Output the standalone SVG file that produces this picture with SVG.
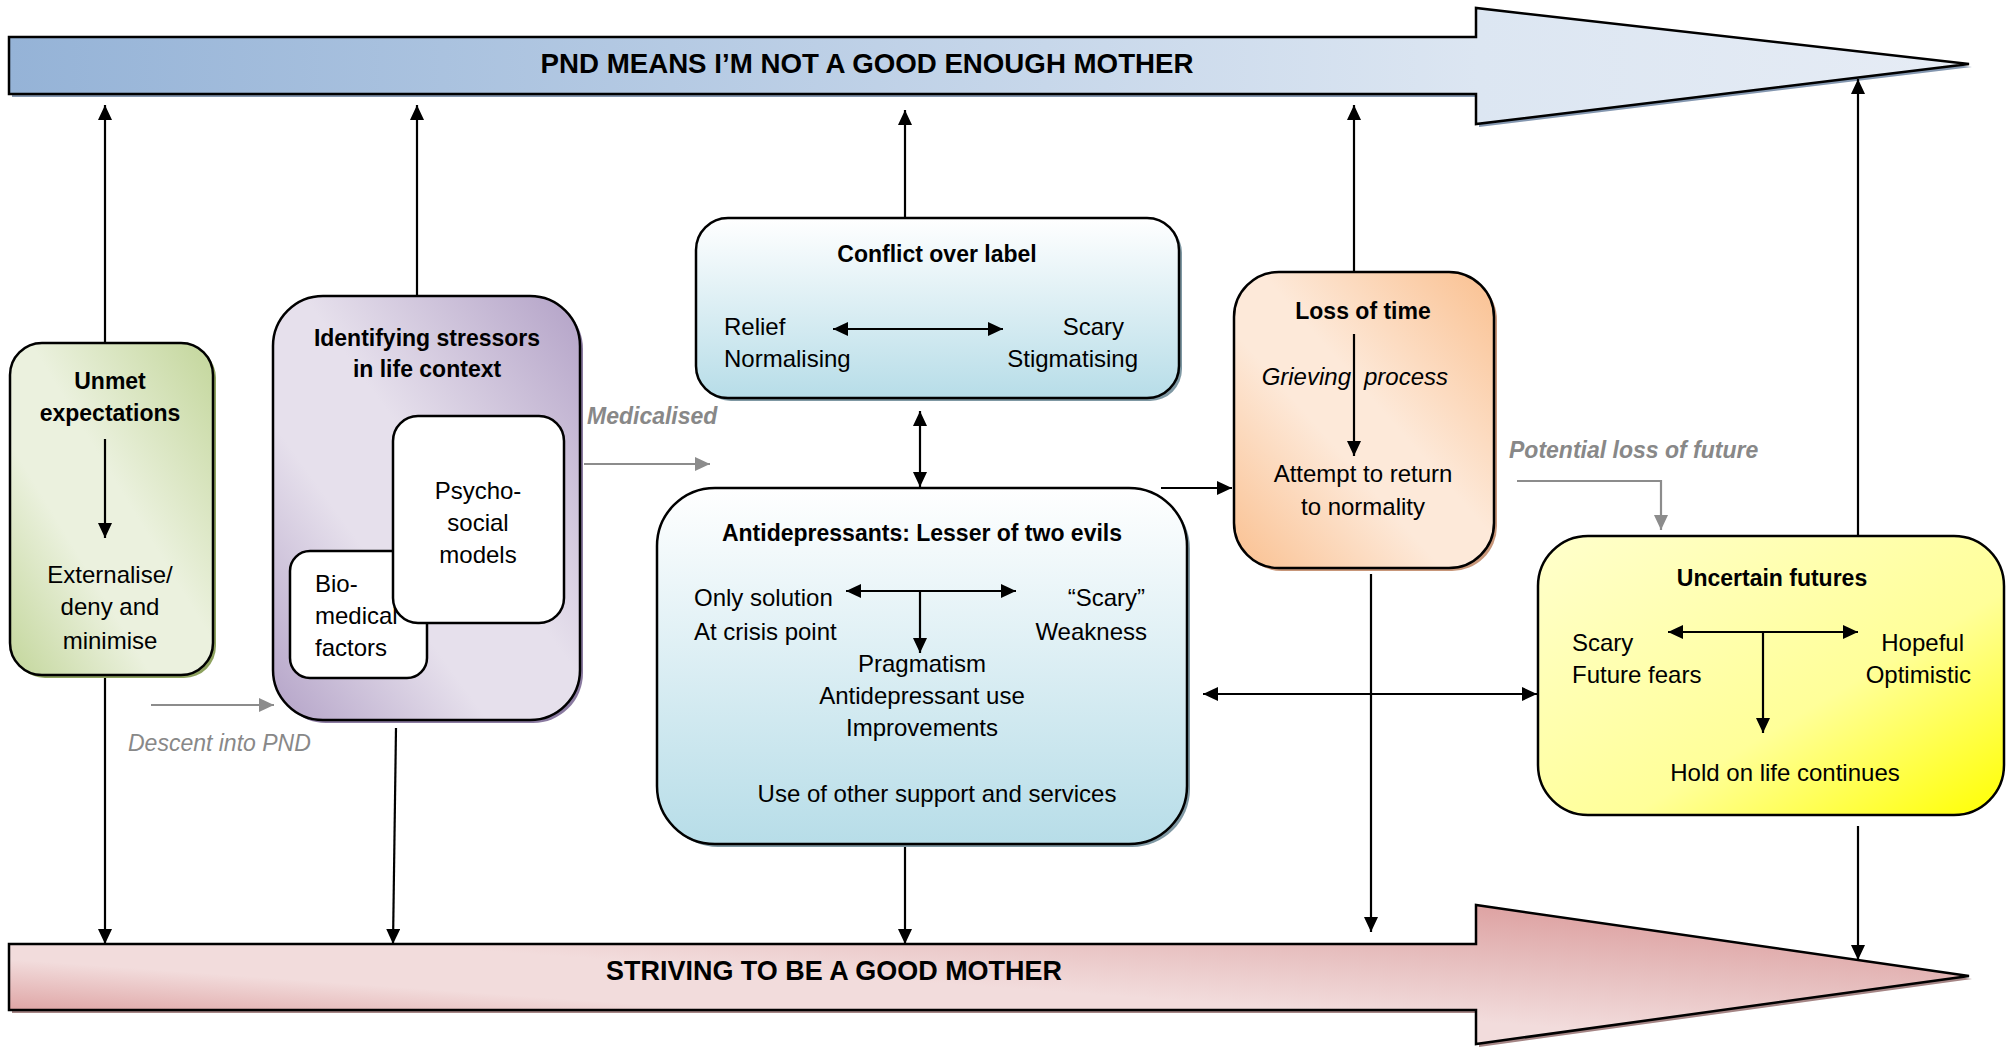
<svg xmlns="http://www.w3.org/2000/svg" width="2009" height="1050" viewBox="0 0 2009 1050">
<defs>
<style>
text{font-family:"Liberation Sans",Arial,sans-serif;fill:#000}
.b{font-size:24px}
.t{font-size:23px;font-weight:bold}
.g{font-size:23px;fill:#888;font-style:italic}
.gb{font-weight:bold}
.banner{font-size:28px;font-weight:bold}
.m{text-anchor:middle}
.e{text-anchor:end}
.box{stroke:#000;stroke-width:2.5}
.ln{stroke:#000;stroke-width:2.2;fill:none}
.gl{stroke:#8c8c8c;stroke-width:2.2;fill:none}
</style>
<marker id="ah" viewBox="0 0 15 14" refX="15" refY="7" markerWidth="15" markerHeight="14" markerUnits="userSpaceOnUse" orient="auto-start-reverse"><path d="M0,0 L15,7 L0,14 Z" fill="#000"/></marker>
<marker id="gh" viewBox="0 0 15 14" refX="15" refY="7" markerWidth="15" markerHeight="14" markerUnits="userSpaceOnUse" orient="auto-start-reverse"><path d="M0,0 L15,7 L0,14 Z" fill="#8c8c8c"/></marker>
<linearGradient id="gTop" gradientUnits="userSpaceOnUse" x1="9" y1="0" x2="1969" y2="0"><stop offset="0" stop-color="#95b3d7"/><stop offset="0.75" stop-color="#dce6f2"/><stop offset="1" stop-color="#e6ecf5"/></linearGradient>
<linearGradient id="gBot" gradientUnits="userSpaceOnUse" x1="752" y1="854" x2="737" y2="1064"><stop offset="0" stop-color="#dea3a3"/><stop offset="0.25" stop-color="#e6bdbd"/><stop offset="0.55" stop-color="#f2dcdc"/><stop offset="0.75" stop-color="#f2dcdc"/><stop offset="1" stop-color="#dea3a3"/></linearGradient>
<linearGradient id="gGreen" x1="1" y1="0" x2="0" y2="1"><stop offset="0" stop-color="#c3d69b"/><stop offset="0.45" stop-color="#ebf1de"/><stop offset="0.65" stop-color="#ebf1de"/><stop offset="1" stop-color="#c3d69b"/></linearGradient>
<linearGradient id="gPurple" x1="1" y1="0" x2="0" y2="1"><stop offset="0" stop-color="#b3a2c7"/><stop offset="0.45" stop-color="#e6e0ec"/><stop offset="0.65" stop-color="#e6e0ec"/><stop offset="1" stop-color="#b3a2c7"/></linearGradient>
<linearGradient id="gOrange" x1="1" y1="0" x2="0" y2="1"><stop offset="0" stop-color="#fac090"/><stop offset="0.45" stop-color="#fde9d9"/><stop offset="0.6" stop-color="#fde9d9"/><stop offset="1" stop-color="#fac090"/></linearGradient>
<linearGradient id="gBlue" x1="0" y1="0" x2="0" y2="1"><stop offset="0" stop-color="#ffffff"/><stop offset="1" stop-color="#b7dde8"/></linearGradient>
<linearGradient id="gYellow" x1="0" y1="0" x2="1" y2="1"><stop offset="0" stop-color="#ffffcc"/><stop offset="0.6" stop-color="#ffff99"/><stop offset="1" stop-color="#ffff00"/></linearGradient>
</defs>

<g id="banner-top">
<path d="M12,40 L1479,40 L1479,11 L1972,67 L1479,127 L1479,97 L12,97 Z" fill="#8497b0"/>
<path class="box" d="M9,37 L1476,37 L1476,8 L1969,64 L1476,124 L1476,94 L9,94 Z" fill="url(#gTop)"/>
<text class="banner m" x="867" y="73" textLength="653" lengthAdjust="spacingAndGlyphs">PND MEANS I’M NOT A GOOD ENOUGH MOTHER</text>
</g>

<g id="banner-bottom">
<path d="M12,947 L1479,947 L1479,908 L1972,979 L1479,1047 L1479,1013 L12,1013 Z" fill="#a58585"/>
<path class="box" d="M9,944 L1476,944 L1476,905 L1969,976 L1476,1044 L1476,1010 L9,1010 Z" fill="url(#gBot)"/>
<text class="banner m" x="834" y="980" textLength="456" lengthAdjust="spacingAndGlyphs">STRIVING TO BE A GOOD MOTHER</text>
</g>

<g id="connectors">
<line class="ln" x1="105" y1="343" x2="105" y2="105" marker-end="url(#ah)"/>
<line class="ln" x1="105" y1="675" x2="105" y2="944" marker-end="url(#ah)"/>
<line class="ln" x1="417" y1="296" x2="417" y2="105" marker-end="url(#ah)"/>
<line class="ln" x1="396" y1="728" x2="393" y2="944" marker-end="url(#ah)"/>
<line class="ln" x1="905" y1="218" x2="905" y2="110" marker-end="url(#ah)"/>
<line class="ln" x1="920" y1="411" x2="920" y2="487" marker-start="url(#ah)" marker-end="url(#ah)"/>
<line class="ln" x1="905" y1="846" x2="905" y2="944" marker-end="url(#ah)"/>
<line class="ln" x1="1161" y1="488" x2="1232" y2="488" marker-end="url(#ah)"/>
<line class="ln" x1="1354" y1="272" x2="1354" y2="105" marker-end="url(#ah)"/>
<line class="ln" x1="1371" y1="574" x2="1371" y2="932" marker-end="url(#ah)"/>
<line class="ln" x1="1203" y1="694" x2="1537" y2="694" marker-start="url(#ah)" marker-end="url(#ah)"/>
<line class="ln" x1="1858" y1="536" x2="1858" y2="79" marker-end="url(#ah)"/>
<line class="ln" x1="1858" y1="826" x2="1858" y2="960" marker-end="url(#ah)"/>
<line class="gl" x1="151" y1="705" x2="274" y2="705" marker-end="url(#gh)"/>
<line class="gl" x1="584" y1="464" x2="710" y2="464" marker-end="url(#gh)"/>
<polyline class="gl" points="1517,481 1661,481 1661,530" marker-end="url(#gh)"/>
<text class="g" x="128" y="751">Descent into PND</text>
<text class="g gb" x="587" y="424">Medicalised</text>
<text class="g gb" x="1509" y="458">Potential loss of future</text>
</g>

<g id="unmet-expectations">
<rect x="13" y="346" width="203" height="332" rx="32" fill="#8ea25f"/>
<rect class="box" x="10" y="343" width="203" height="332" rx="32" fill="url(#gGreen)"/>
<text class="t m" x="110" y="389">Unmet</text>
<text class="t m" x="110" y="421">expectations</text>
<line class="ln" x1="105" y1="439" x2="105" y2="538" marker-end="url(#ah)"/>
<text class="b m" x="110" y="583">Externalise/</text>
<text class="b m" x="110" y="615">deny and</text>
<text class="b m" x="110" y="649">minimise</text>
</g>

<g id="identifying-stressors">
<rect x="276" y="299" width="307" height="424" rx="50" fill="#8a7aa0"/>
<rect class="box" x="273" y="296" width="307" height="424" rx="50" fill="url(#gPurple)"/>
<text class="t m" x="427" y="346">Identifying stressors</text>
<text class="t m" x="427" y="377">in life context</text>
<g id="bio-medical">
<rect class="box" x="290" y="551" width="137" height="127" rx="20" fill="#fff" stroke-width="2"/>
<text class="b" x="315" y="592">Bio-</text>
<text class="b" x="315" y="624">medical</text>
<text class="b" x="315" y="656">factors</text>
</g>
<g id="psycho-social">
<rect class="box" x="393" y="416" width="171" height="207" rx="25" fill="#fff" stroke-width="2"/>
<text class="b m" x="478" y="499">Psycho-</text>
<text class="b m" x="478" y="531">social</text>
<text class="b m" x="478" y="563">models</text>
</g>
</g>

<g id="conflict-over-label">
<rect x="699" y="221" width="483" height="180" rx="32" fill="#7f98a3"/>
<rect class="box" x="696" y="218" width="483" height="180" rx="32" fill="url(#gBlue)"/>
<text class="t m" x="937" y="262">Conflict over label</text>
<text class="b" x="724" y="335">Relief</text>
<text class="b" x="724" y="367">Normalising</text>
<text class="b e" x="1124" y="335">Scary</text>
<text class="b e" x="1138" y="367">Stigmatising</text>
<line class="ln" x1="833" y1="329" x2="1003" y2="329" marker-start="url(#ah)" marker-end="url(#ah)"/>
</g>

<g id="antidepressants">
<rect x="660" y="491" width="530" height="356" rx="58" fill="#7f98a3"/>
<rect class="box" x="657" y="488" width="530" height="356" rx="58" fill="url(#gBlue)"/>
<text class="t m" x="922" y="541">Antidepressants: Lesser of two evils</text>
<text class="b" x="694" y="606">Only solution</text>
<text class="b" x="694" y="640">At crisis point</text>
<text class="b e" x="1145" y="606">“Scary”</text>
<text class="b e" x="1147" y="640">Weakness</text>
<line class="ln" x1="846" y1="591" x2="1016" y2="591" marker-start="url(#ah)" marker-end="url(#ah)"/>
<line class="ln" x1="920" y1="591" x2="920" y2="653" marker-end="url(#ah)"/>
<text class="b m" x="922" y="672">Pragmatism</text>
<text class="b m" x="922" y="704">Antidepressant use</text>
<text class="b m" x="922" y="736">Improvements</text>
<text class="b m" x="937" y="802">Use of other support and services</text>
</g>

<g id="loss-of-time">
<rect x="1237" y="275" width="260" height="296" rx="45" fill="#c8977a"/>
<rect class="box" x="1234" y="272" width="260" height="296" rx="45" fill="url(#gOrange)"/>
<text class="t m" x="1363" y="319">Loss of time</text>
<text class="b e" x="1351" y="385" font-style="italic">Grieving</text>
<text class="b" x="1364" y="385" font-style="italic">process</text>
<line class="ln" x1="1354" y1="334" x2="1354" y2="456" marker-end="url(#ah)"/>
<text class="b m" x="1363" y="482">Attempt to return</text>
<text class="b m" x="1363" y="515">to normality</text>
</g>

<g id="uncertain-futures">
<rect class="box" x="1538" y="536" width="466" height="279" rx="50" fill="url(#gYellow)"/>
<text class="t m" x="1772" y="586">Uncertain futures</text>
<text class="b" x="1572" y="651">Scary</text>
<text class="b" x="1572" y="683">Future fears</text>
<text class="b e" x="1964" y="651">Hopeful</text>
<text class="b e" x="1971" y="683">Optimistic</text>
<line class="ln" x1="1668" y1="632" x2="1858" y2="632" marker-start="url(#ah)" marker-end="url(#ah)"/>
<line class="ln" x1="1763" y1="632" x2="1763" y2="733" marker-end="url(#ah)"/>
<text class="b m" x="1785" y="781">Hold on life continues</text>
</g>
</svg>
